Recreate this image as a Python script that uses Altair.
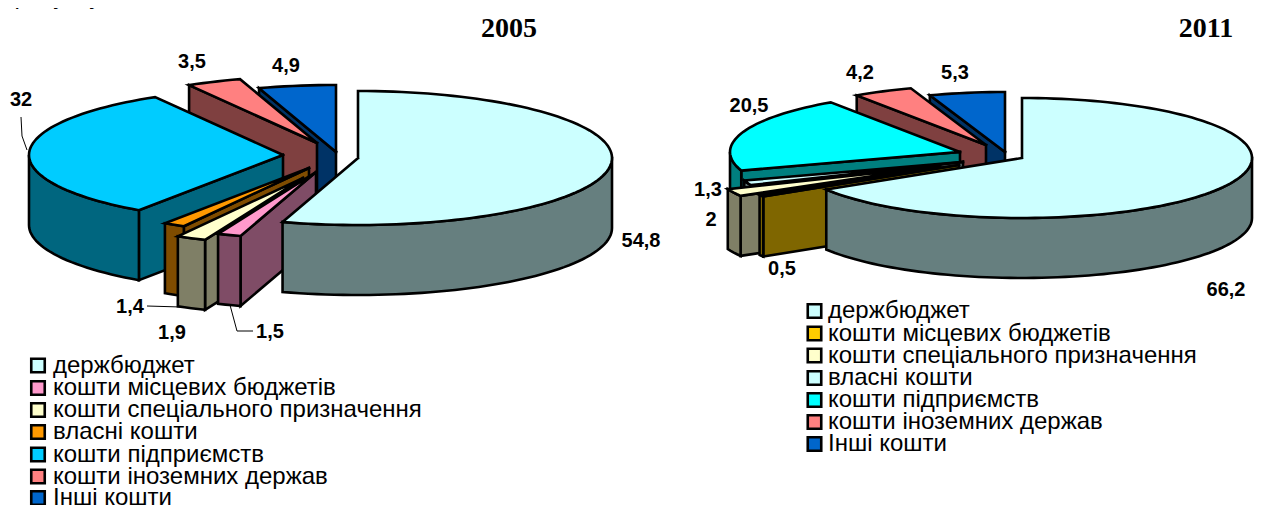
import math
import altair as alt
import pandas as pd

# ---- data ----
categories_2005 = ["держбюджет", "кошти місцевих бюджетів", "кошти спеціального призначення",
                   "власні кошти", "кошти підприємств", "кошти іноземних держав", "Інші кошти"]
categories_2011 = categories_2005
values_2005 = [54.8, 1.5, 1.9, 1.4, 32, 3.5, 4.9]
values_2011 = [66.2, 0.5, 2, 1.3, 20.5, 4.2, 5.3]
labels_2005 = ["54,8", "1,5", "1,9", "1,4", "32", "3,5", "4,9"]
labels_2011 = ["66,2", "0,5", "2", "1,3", "20,5", "4,2", "5,3"]
colors_2005 = ["#CCFFFF", "#FF99CC", "#FFFFCC", "#FF9900", "#00CCFF", "#FF8080", "#0066CC"]
colors_2011 = ["#CCFFFF", "#FFCC00", "#FFFFCC", "#CCFFFF", "#00FFFF", "#FF8080", "#0066CC"]

# ---- layout (image pixels) ----
W, H = 1259, 497
apex_2005 = [(358, 158), (316, 172), (303, 178), (309, 168), (283, 155), (317, 143), (336, 152)]
apex_2011 = [(1022, 158), (959, 165), (940, 166), (963, 162), (960, 152), (986, 145), (1005, 152)]
pie_2005 = dict(rx=254, ry=67, depth=70)
pie_2011 = dict(rx=230, ry=60, depth=60)
label_pos_2005 = [(641, 241), (270, 332), (172, 333), (130, 307), (21, 100), (192, 62), (286, 66)]
label_pos_2011 = [(1226, 290), (782, 269), (711, 220), (708, 190), (749, 106), (860, 73), (955, 73)]
legend_2005 = dict(sx=38, tx=53, ys=[365.5, 388, 410, 432, 454.5, 476.5, 498])
legend_2011 = dict(sx=814.5, tx=828, ys=[311, 333.5, 355.5, 378, 400, 422, 444])
leaders = [
    [(21, 117), (22, 136), (27, 150)],
    [(147, 306), (181, 307)],
    [(230, 305), (237, 331), (253, 331)],
]
titles = [("2005", 509, 28.5), ("2011", 1206, 28.5)]
header = ("рисунку 3.", 128, 4)


def dark(c):
    r, g, b = (int(c[i:i + 2], 16) for i in (1, 3, 5))
    return "#%02X%02X%02X" % (r // 2, g // 2, b // 2)


def build_polys(values, colors, apexes, rx, ry, depth, prefix):
    rows = []
    total = sum(values)
    edges = [0]
    for v in values:
        edges.append(edges[-1] + v / total * 360)

    def pt(c, a):
        t = math.radians(a)
        return (c[0] + rx * math.sin(t), c[1] - ry * math.cos(t))

    def arc(c, a0, a1):
        n = max(2, int((a1 - a0) / 2) + 1)
        return [pt(c, a0 + (a1 - a0) * k / n) for k in range(n + 1)]

    def add(name, fill, pts):
        pts = list(pts) + [pts[0]]
        for i, (x, y) in enumerate(pts):
            rows.append({"poly": name, "fill": fill, "i": i, "x": x, "y": y})

    for s in range(len(values) - 1, -1, -1):
        c = apexes[s]
        a0, a1 = edges[s], edges[s + 1]
        wall = dark(colors[s])
        tag = f"{prefix}{s}"
        if s != 0:
            p = pt(c, a0)
            add(tag + "w", wall, [c, p, (p[0], p[1] + depth), (c[0], c[1] + depth)])
        lo, hi = max(a0, 90), min(a1, 270)
        if hi > lo:
            top_edge = arc(c, lo, hi)
            bottom = [(x, y + depth) for x, y in reversed(top_edge)]
            add(tag + "o", wall, top_edge + bottom)
        add(tag + "t", colors[s], [c] + arc(c, a0, a1))
    return rows


rows = build_polys(values_2005, colors_2005, apex_2005, prefix="a", **pie_2005) + \
       build_polys(values_2011, colors_2011, apex_2011, prefix="b", **pie_2011)
poly_df = pd.DataFrame(rows)

xs = alt.Scale(domain=[8, 8 + W], range=[0, W])
ys = alt.Scale(domain=[8, 8 + H], range=[0, H])
X = alt.X("x:Q", scale=xs, axis=None)
Y = alt.Y("y:Q", scale=ys, axis=None)

polys = alt.Chart(poly_df).mark_line(
    stroke="black", strokeWidth=2.6, strokeJoin="miter", strokeCap="square", clip=False
).encode(
    x=X, y=Y,
    fill=alt.Fill("fill:N", scale=None),
    detail="poly:N",
    order="i:Q",
)

leader_df = pd.DataFrame([
    {"k": n, "i": i, "x": x, "y": y} for n, line in enumerate(leaders) for i, (x, y) in enumerate(line)
])
leader_layer = alt.Chart(leader_df).mark_line(stroke="black", strokeWidth=1).encode(
    x=X, y=Y, detail="k:N", order="i:Q"
)

value_df = pd.DataFrame(
    [{"t": t, "x": p[0], "y": p[1]} for t, p in zip(labels_2005 + labels_2011, label_pos_2005 + label_pos_2011)]
)
value_layer = alt.Chart(value_df).mark_text(
    font="Liberation Sans", fontWeight="bold", fontSize=20, color="black", align="center", baseline="middle"
).encode(x=X, y=Y, text="t:N")

title_df = pd.DataFrame([{"t": t, "x": x, "y": y} for t, x, y in titles])
title_layer = alt.Chart(title_df).mark_text(
    font="Liberation Serif", fontWeight="bold", fontSize=28, color="black", align="center", baseline="middle"
).encode(x=X, y=Y, text="t:N")

leg_rows = []
for cats, cols, leg in ((categories_2005, colors_2005, legend_2005), (categories_2011, colors_2011, legend_2011)):
    for t, col, y in zip(cats, cols, leg["ys"]):
        leg_rows.append({"t": t, "fill": col, "sx": leg["sx"], "tx": leg["tx"], "y": y})
leg_df = pd.DataFrame(leg_rows)
leg_squares = alt.Chart(leg_df).mark_square(size=182, stroke="black", strokeWidth=2.6, opacity=1).encode(
    x=alt.X("sx:Q", scale=xs, axis=None), y=Y, fill=alt.Fill("fill:N", scale=None)
)
leg_text = alt.Chart(leg_df).mark_text(
    font="Liberation Sans", fontSize=24, color="black", align="left", baseline="middle"
).encode(x=alt.X("tx:Q", scale=xs, axis=None), y=Y, text="t:N")

header_df = pd.DataFrame([{"t": header[0], "x": header[1], "y": header[2]}])
header_layer = alt.Chart(header_df).mark_text(
    font="Liberation Sans", fontSize=24, color="black", align="right", baseline="alphabetic"
).encode(x=X, y=Y, text="t:N")

chart = alt.layer(
    polys, leader_layer, value_layer, title_layer, leg_squares, leg_text, header_layer
).properties(
    width=W, height=H, padding=0, autosize=alt.AutoSizeParams(type="none")
).configure_view(stroke=None)

chart.save("out.html", embed_options={"renderer": "svg", "actions": False})
